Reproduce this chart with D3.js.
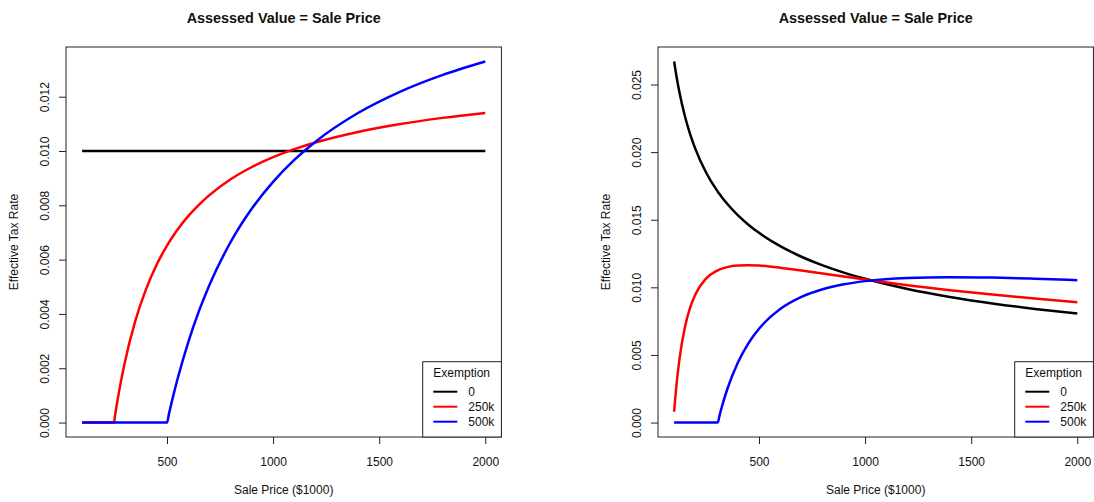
<!DOCTYPE html>
<html>
<head>
<meta charset="utf-8">
<script src="https://cdn.jsdelivr.net/npm/d3@7"></script>
<style>
  body { margin: 0; background: #fff; }
  text { font-family: "Liberation Sans", Arial, Helvetica, sans-serif; fill: #111; }
</style>
</head>
<body>
<svg id="chart" width="1094" height="502"></svg>
<script>
// labels
const titleText = "Assessed Value = Sale Price";
const xLabel = "Sale Price ($1000)";
const yLabel = "Effective Tax Rate";
const legendTitle = "Exemption";
const exemptions = ["0", "250k", "500k"];
const colors = ["#000000", "#ff0000", "#0000ff"];
const xTicks = [500, 1000, 1500, 2000];
const leftYTicks = [0, 0.002, 0.004, 0.006, 0.008, 0.010, 0.012];
const rightYTicks = [0, 0.005, 0.010, 0.015, 0.020, 0.025];

// left panel: sale price ($1000) and effective rate per exemption
const leftPrice = [100, 250, 255, 260, 275, 300, 350, 400, 450, 500, 510, 525, 550, 600, 650, 700, 800, 900, 1000, 1100, 1200, 1400, 1600, 1800, 2000];
const leftNone = [0.01, 0.01, 0.01, 0.01, 0.01, 0.01, 0.01, 0.01, 0.01, 0.01, 0.01, 0.01, 0.01, 0.01, 0.01, 0.01, 0.01, 0.01, 0.01, 0.01, 0.01, 0.01, 0.01, 0.01, 0.01];
const left250 = [0, 0, 0.000255, 0.000501, 0.001185, 0.002172, 0.003723, 0.004886, 0.005791, 0.006515, 0.006643, 0.006825, 0.007107, 0.007601, 0.008018, 0.008376, 0.008958, 0.009411, 0.009773, 0.010069, 0.010315, 0.010703, 0.010994, 0.011220, 0.011401];
const left500 = [0, 0, 0, 0, 0, 0, 0, 0, 0, 0, 0.000348, 0.000844, 0.001612, 0.002955, 0.004092, 0.005066, 0.006649, 0.007880, 0.008865, 0.009671, 0.010343, 0.011398, 0.012189, 0.012805, 0.013298];

// right panel
const rightPrice = [100, 105, 110, 125, 150, 175, 200, 250, 300, 306, 315, 325, 350, 400, 450, 500, 600, 700, 800, 900, 1000, 1200, 1400, 1600, 1800, 2000];
const rightNone = [0.026706, 0.026190, 0.025707, 0.024426, 0.022707, 0.021349, 0.020239, 0.018511, 0.017209, 0.017074, 0.016877, 0.016667, 0.016179, 0.015338, 0.014633, 0.014029, 0.013042, 0.012262, 0.011624, 0.011089, 0.010632, 0.009884, 0.009293, 0.008810, 0.008404, 0.008057];
const right250 = [0.000800, 0.001758, 0.002611, 0.004675, 0.006996, 0.008483, 0.009477, 0.010639, 0.011216, 0.011262, 0.011324, 0.011383, 0.011497, 0.011617, 0.011642, 0.011611, 0.011457, 0.011248, 0.011022, 0.010794, 0.010573, 0.010161, 0.009792, 0.009462, 0.009166, 0.008900];
const right500 = [0, 0, 0, 0, 0, 0, 0, 0, 0, 0.000028, 0.000589, 0.001169, 0.002445, 0.004422, 0.005861, 0.006936, 0.008392, 0.009287, 0.009856, 0.010223, 0.010460, 0.010697, 0.010755, 0.010722, 0.010639, 0.010529];

const svg = d3.select("#chart");

// R-style plot region (4% padding on the data range)
const box = { left: 66, right: 501.4, top: 47, bottom: 437 };

function drawPanel(offset, price, seriesList, yTicks) {
  const g = svg.append("g").attr("transform", `translate(${offset},0)`);

  const xExt = d3.extent(price);
  const xPad = (xExt[1] - xExt[0]) * 0.04;
  const x = d3.scaleLinear()
    .domain([xExt[0] - xPad, xExt[1] + xPad])
    .range([box.left, box.right]);

  const yMin = d3.min(seriesList, s => d3.min(s));
  const yMax = d3.max(seriesList, s => d3.max(s));
  const yPad = (yMax - yMin) * 0.04;
  const y = d3.scaleLinear()
    .domain([yMin - yPad, yMax + yPad])
    .range([box.bottom, box.top]);

  // lines
  const line = d3.line()
    .x(d => x(d[0]))
    .y(d => y(d[1]))
    .curve(d3.curveMonotoneX);

  seriesList.forEach((vals, i) => {
    g.append("path")
      .datum(price.map((p, j) => [p, vals[j]]))
      .attr("d", line)
      .attr("fill", "none")
      .attr("stroke", colors[i])
      .attr("stroke-width", 2.5)
      .attr("stroke-linejoin", "round");
  });

  // box
  g.append("rect")
    .attr("x", box.left)
    .attr("y", box.top)
    .attr("width", box.right - box.left)
    .attr("height", box.bottom - box.top)
    .attr("fill", "none")
    .attr("stroke", "#222")
    .attr("stroke-width", 1);

  // x axis
  const xAxis = d3.axisBottom(x)
    .tickValues(xTicks)
    .tickSize(7)
    .tickPadding(6)
    .tickFormat(d3.format("d"));
  const gx = g.append("g")
    .attr("transform", `translate(0,${box.bottom})`)
    .call(xAxis);
  gx.select(".domain").remove();
  gx.selectAll(".tick line").attr("stroke", "#222");
  gx.selectAll(".tick text")
    .attr("y", 28.7)
    .attr("dy", null)
    .style("font-size", "12px")
    .style("font-family", '"Liberation Sans", Arial, sans-serif')
    .attr("fill", "#111");

  // y axis with rotated labels
  const yAxis = d3.axisLeft(y)
    .tickValues(yTicks)
    .tickSize(7)
    .tickFormat(d3.format(".3f"));
  const gy = g.append("g")
    .attr("transform", `translate(${box.left},0)`)
    .call(yAxis);
  gy.select(".domain").remove();
  gy.selectAll(".tick line").attr("stroke", "#222");
  gy.selectAll(".tick text")
    .attr("x", null)
    .attr("dy", null)
    .attr("transform", "translate(-17.5,0) rotate(-90)")
    .attr("text-anchor", "middle")
    .style("font-size", "12px")
    .style("font-family", '"Liberation Sans", Arial, sans-serif')
    .attr("fill", "#111");

  // titles
  const cx = (box.left + box.right) / 2;
  g.append("text")
    .attr("x", cx)
    .attr("y", 22.5)
    .attr("text-anchor", "middle")
    .style("font-size", "14.4px")
    .style("font-weight", "bold")
    .text(titleText);

  g.append("text")
    .attr("x", cx)
    .attr("y", 494)
    .attr("text-anchor", "middle")
    .style("font-size", "12px")
    .text(xLabel);

  g.append("text")
    .attr("transform", `translate(${box.left - 48},${(box.top + box.bottom) / 2}) rotate(-90)`)
    .attr("text-anchor", "middle")
    .style("font-size", "12px")
    .text(yLabel);

  // legend, bottom right
  const lg = g.append("g").attr("transform", `translate(${box.right - 78.7},${box.bottom - 75.3})`);
  lg.append("rect")
    .attr("width", 78.7)
    .attr("height", 75.3)
    .attr("fill", "#fff")
    .attr("stroke", "#222")
    .attr("stroke-width", 1);
  lg.append("text")
    .attr("x", 39)
    .attr("y", 15)
    .attr("text-anchor", "middle")
    .style("font-size", "12px")
    .text(legendTitle);
  exemptions.forEach((lab, i) => {
    const ly = 30 + i * 15;
    lg.append("line")
      .attr("x1", 10.6)
      .attr("x2", 34.6)
      .attr("y1", ly)
      .attr("y2", ly)
      .attr("stroke", colors[i])
      .attr("stroke-width", 2);
    lg.append("text")
      .attr("x", 45.6)
      .attr("y", ly + 4.3)
      .style("font-size", "12px")
      .text(lab);
  });
}

drawPanel(0, leftPrice, [leftNone, left250, left500], leftYTicks);
drawPanel(592, rightPrice, [rightNone, right250, right500], rightYTicks);
</script>
</body>
</html>
